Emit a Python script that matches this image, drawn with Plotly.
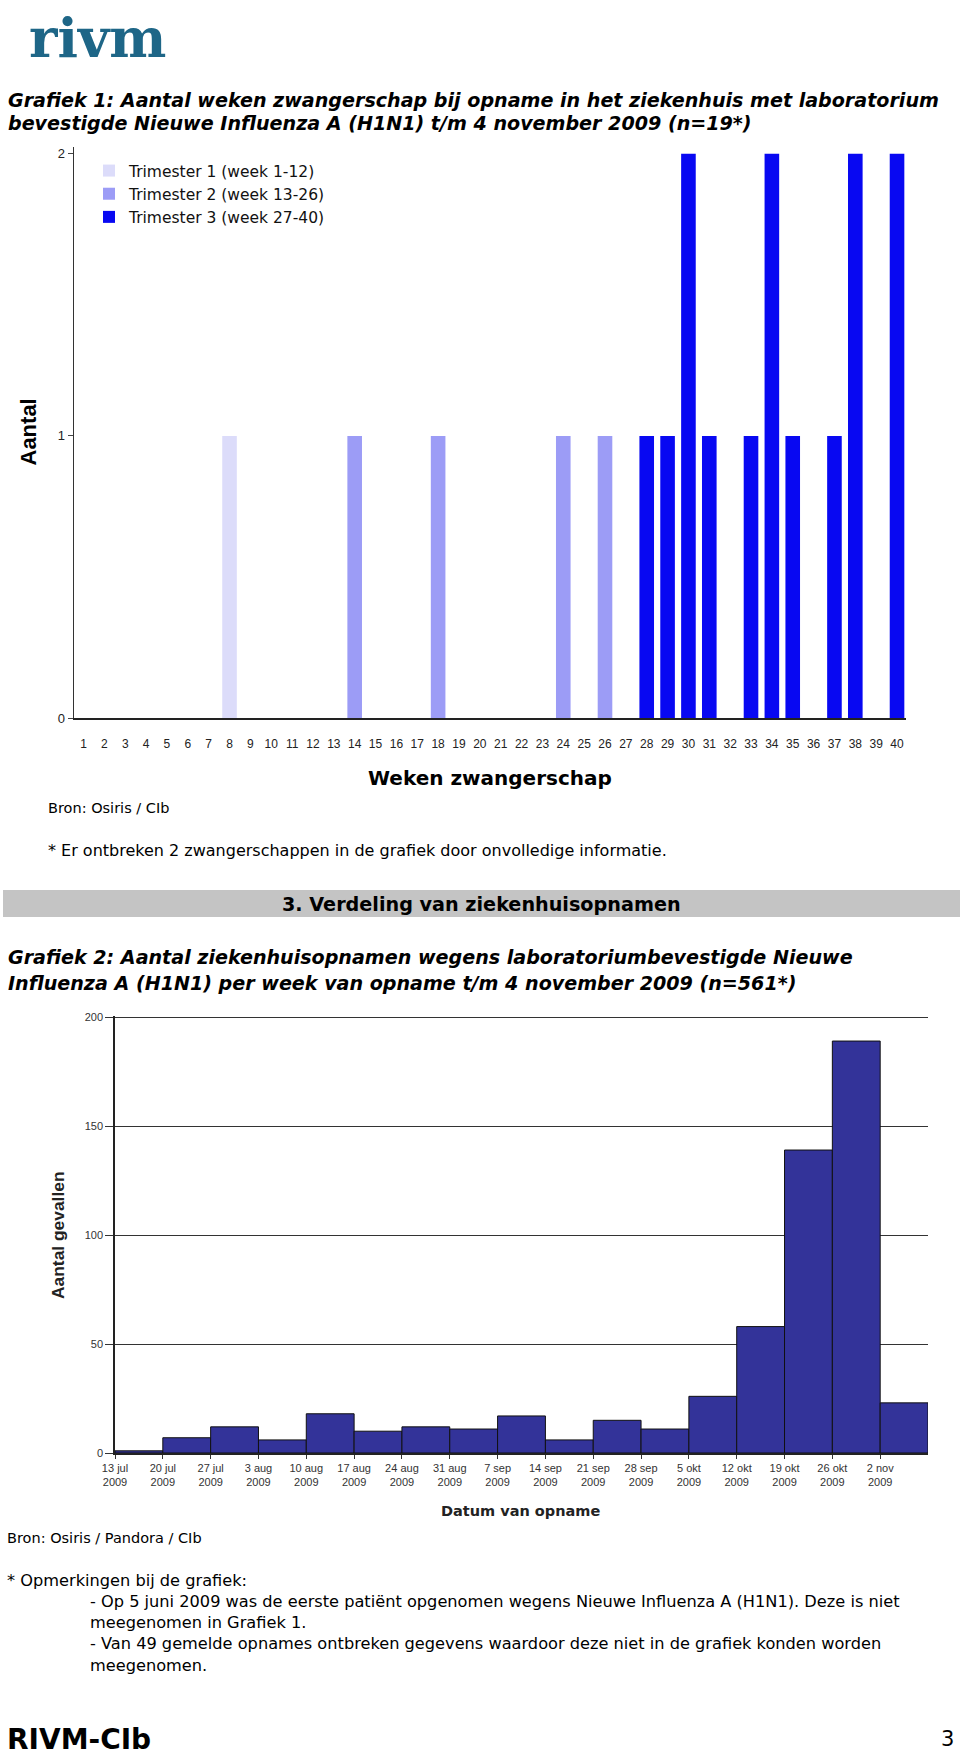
import pandas as pd
import plotly.graph_objects as go

# Grafiek 1: weken zwangerschap per trimester
weeks_t1 = [8]
counts_t1 = [1]
weeks_t2 = [14, 18, 24, 26]
counts_t2 = [1, 1, 1, 1]
weeks_t3 = [28, 29, 30, 31, 33, 34, 35, 37, 38, 40]
counts_t3 = [1, 1, 2, 1, 1, 2, 1, 1, 2, 2]
trimester_names = ["Trimester 1 (week 1-12)", "Trimester 2 (week 13-26)", "Trimester 3 (week 27-40)"]
all_weeks = list(range(1, 41))

# Grafiek 2: ziekenhuisopnamen per week
week_start = ["2009-07-13", "2009-07-20", "2009-07-27", "2009-08-03", "2009-08-10",
              "2009-08-17", "2009-08-24", "2009-08-31", "2009-09-07", "2009-09-14",
              "2009-09-21", "2009-09-28", "2009-10-05", "2009-10-12", "2009-10-19",
              "2009-10-26", "2009-11-02"]
week_labels = ["13 jul", "20 jul", "27 jul", "3 aug", "10 aug", "17 aug", "24 aug", "31 aug",
               "7 sep", "14 sep", "21 sep", "28 sep", "5 okt", "12 okt", "19 okt", "26 okt", "2 nov"]
admissions = [1, 7, 12, 6, 18, 10, 12, 11, 17, 6, 15, 11, 26, 58, 139, 189, 23]

W, H = 960, 1757
PAGE = "DejaVu Sans, Verdana, sans-serif"
CHART = "Liberation Sans, Arial, sans-serif"


def fx(x):
    # page pixel -> paper fraction
    return x / W


def fy(y):
    return 1 - y / H


fig = go.Figure()

colors1 = ["#dcdcfa", "#9c9cf6", "#0808f2"]
for name, wk, ct, col in zip(trimester_names, [weeks_t1, weeks_t2, weeks_t3],
                             [counts_t1, counts_t2, counts_t3], colors1):
    fig.add_trace(go.Bar(x=wk, y=ct, name=name, width=0.7, marker=dict(color=col, line=dict(width=0)),
                         xaxis="x", yaxis="y"))

starts = pd.to_datetime(week_start)
centers = starts + pd.Timedelta(days=3.5)
fig.add_trace(go.Bar(x=centers, y=admissions, width=7 * 24 * 3600 * 1000, showlegend=False,
                     marker=dict(color="#333399", line=dict(color="#111111", width=1)),
                     xaxis="x2", yaxis="y2"))

ticktext2 = [lab + "<br>2009" for lab in week_labels]

fig.update_layout(
    width=W, height=H, margin=dict(l=0, r=0, t=0, b=0, autoexpand=False),
    paper_bgcolor="white", plot_bgcolor="rgba(0,0,0,0)",
    barmode="overlay", font=dict(family=CHART, color="black"),
    xaxis=dict(domain=[fx(73.5), fx(906)], range=[0.52, 40.43], anchor="y",
               tickvals=all_weeks, ticks="outside", ticklen=14, tickcolor="rgba(0,0,0,0)",
               tickfont=dict(size=12, color="#222"), showline=True, linecolor="#222", linewidth=2,
               showgrid=False, zeroline=False, automargin=False),
    yaxis=dict(domain=[fy(718), fy(147)], range=[0, 2.024], anchor="x",
               tickvals=[0, 1, 2], ticks="outside", ticklen=5, tickcolor="#444",
               tickfont=dict(size=13, color="#222"), showline=True, linecolor="#333", linewidth=1,
               showgrid=False, zeroline=False, automargin=False),
    xaxis2=dict(domain=[fx(115), fx(928)], range=[starts[0], starts[-1] + pd.Timedelta(days=7)],
                anchor="y2", tickvals=starts, ticktext=ticktext2, ticks="outside", ticklen=4,
                tickcolor="#333", tickfont=dict(size=11, color="#333"), showline=True,
                linecolor="#222", linewidth=1.5, showgrid=False, zeroline=False, automargin=False),
    yaxis2=dict(domain=[fy(1453), fy(1016)], range=[0, 200.5], anchor="x2",
                tickvals=[0, 50, 100, 150, 200], ticks="outside", ticklen=8, tickcolor="#333",
                tickfont=dict(size=11, color="#333"), showline=True, linecolor="#222", linewidth=1.5,
                showgrid=True, gridcolor="#333", gridwidth=1, zeroline=False, automargin=False),
    legend=dict(x=fx(89), y=fy(154), xanchor="left", yanchor="top", bgcolor="rgba(0,0,0,0)",
                font=dict(size=15.5, color="#111", family=PAGE), tracegroupgap=0, itemwidth=30),
    shapes=[dict(type="rect", xref="paper", yref="paper", x0=fx(3), x1=1, y0=fy(917), y1=fy(890),
                 fillcolor="#c4c4c4", line=dict(width=0), layer="below")],
)


def note(text, x, y, size=16, anchor="left", angle=0, color="black", family=PAGE):
    fig.add_annotation(text=text, x=fx(x), y=fy(y), xref="paper", yref="paper", showarrow=False,
                       xanchor=anchor, yanchor="middle", textangle=angle,
                       font=dict(size=size, color=color, family=family))


note("<b>rivm</b>", 27, 38, size=54, color="#1e6687", family="DejaVu Serif, serif")
note("<b><i>Grafiek 1: Aantal weken zwangerschap bij opname in het ziekenhuis met laboratorium</i></b>", 6, 100, size=19.1)
note("<b><i>bevestigde Nieuwe Influenza A (H1N1) t/m 4 november 2009 (n=19*)</i></b>", 6, 123, size=19.1)
note("<b>Aantal</b>", 27.5, 432, size=22, anchor="center", angle=-90, family=CHART)
note("<b>Weken zwangerschap</b>", 490, 778, size=20, anchor="center")
note("Bron: Osiris / CIb", 46, 808, size=14.5)
note("* Er ontbreken 2 zwangerschappen in de grafiek door onvolledige informatie.", 46, 850, size=16)
note("<b>3. Verdeling van ziekenhuisopnamen</b>", 481, 904, size=19.2, anchor="center")
note("<b><i>Grafiek 2: Aantal ziekenhuisopnamen wegens laboratoriumbevestigde Nieuwe</i></b>", 6, 957, size=19.1)
note("<b><i>Influenza A (H1N1) per week van opname t/m 4 november 2009 (n=561*)</i></b>", 6, 983, size=19.1)
note("<b>Aantal gevallen</b>", 58, 1235, size=17.4, anchor="center", angle=-90, color="#222", family=CHART)
note("<b>Datum van opname</b>", 520, 1511, size=14.5, anchor="center", color="#222")
note("Bron: Osiris / Pandora / CIb", 5, 1538, size=14.5)
note("* Opmerkingen bij de grafiek:", 5, 1580, size=16.2)
note("- Op 5 juni 2009 was de eerste patiënt opgenomen wegens Nieuwe Influenza A (H1N1). Deze is niet", 88, 1601, size=16.2)
note("meegenomen in Grafiek 1.", 88, 1622, size=16.2)
note("- Van 49 gemelde opnames ontbreken gegevens waardoor deze niet in de grafiek konden worden", 88, 1643, size=16.2)
note("meegenomen.", 88, 1665, size=16.2)
note("<b>RIVM-CIb</b>", 5, 1739, size=28)
note("3", 947, 1739, size=21, anchor="center")

# drop the default 8px body margin so the figure fills the page exactly
fig.write_html("out.html", config={"displayModeBar": False},
               post_script="document.body.style.margin = '0';")
